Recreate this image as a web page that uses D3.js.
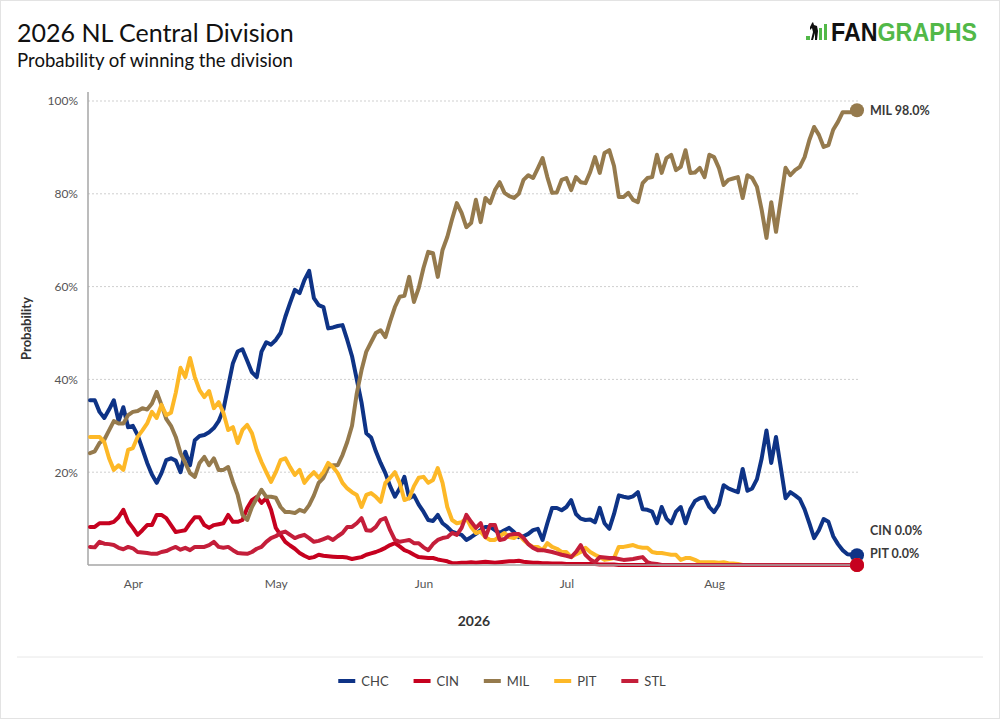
<!DOCTYPE html>
<html>
<head>
<meta charset="utf-8">
<script src="https://cdn.jsdelivr.net/npm/d3@7"></script>
<style>
  body { margin: 0; background: #fff; }
  svg { display: block; font-family: Lato, "Open Sans", sans-serif; }
</style>
</head>
<body>
<svg id="chart" width="1000" height="721"></svg>
<script>
// ---- data (daily values in %) ----
const startDate = "2026-03-23";
const teams = ["CHC", "CIN", "MIL", "PIT", "STL"];
const teamColours = ["#0E3386", "#C6011F", "#957A4D", "#FDB827", "#C41E3A"];
const yTicks = [20, 40, 60, 80, 100];
const labelledTeams = ["MIL", "CIN", "PIT"];

const chcValues = [
  35.5, 35.5, 33, 31.7, 33.5, 35.5, 31, 34, 29.7, 30,
  28, 25, 22, 19.5, 17.7, 19.8, 22.6, 23, 22.5, 20,
  24.4, 21.5, 26.9, 27.8, 28, 28.6, 29.5, 31, 33.5, 38.5,
  43.5, 46, 46.5, 44, 41.5, 40.5, 46, 48, 47.5, 48.5,
  50, 53.5, 56.5, 59.3, 58.6, 61.4, 63.4, 57.5, 56, 55.6,
  51, 51.2, 51.5, 51.7, 48.5, 45, 40, 35, 28.4, 27.5,
  24.5, 22, 19.8, 17, 14.7, 16.5, 19, 14.4, 15, 13,
  11.5, 9.7, 9.5, 10.8, 9, 8.2, 7.2, 6.8, 6.5, 5.4,
  6, 6.7, 7.5, 8.2, 8.2, 7.5, 6.9, 7.5, 8, 7.1,
  6, 6.2, 6.7, 7.5, 7.8, 5.4, 9, 12.3, 12.3, 11.8,
  12.5, 14, 11, 10, 9.7, 9.8, 9.2, 12.3, 9, 7.8,
  11, 15, 14.7, 14.5, 14.8, 15.7, 12, 11.9, 11.5, 9,
  12.5, 10, 9, 11.5, 12.5, 9, 12, 13.8, 14.4, 14.6,
  12.5, 11.4, 13, 17.2, 16.5, 16.1, 15.7, 20.7, 16, 16.5,
  18.5, 23, 29, 22, 27.6, 21, 14.4, 15.7, 15, 14.2,
  12, 9, 5.8, 7.5, 9.9, 9.3, 6.2, 4.5, 3.2, 2.3,
  2.2, 2.1
];

const cinValues = [
  8.2, 8.2, 9, 9, 9, 9.3, 10.3, 11.9, 9.3, 8,
  6.5, 7.5, 8.6, 8.6, 10.8, 10.8, 10.1, 8.6, 7.1, 7.3,
  7.5, 9, 10.3, 10.3, 8.6, 8, 8.6, 8.8, 9, 10.8,
  9.3, 9.3, 9.7, 12.3, 14, 14.7, 13.4, 14.4, 11.9, 8,
  6.5, 5, 4.2, 3.5, 2.6, 2, 1.5, 1.7, 2.2, 2,
  1.9, 1.8, 1.7, 1.7, 1.6, 1.3, 1.5, 1.7, 2.2, 2.5,
  2.8, 3.2, 3.7, 4.3, 4.7, 4, 3.2, 2.8, 2.2, 1.7,
  1.6, 1.5, 1.5, 1.2, 1, 0.8, 0.4, 0.4, 0.5, 0.5,
  0.6, 0.5, 0.6, 0.7, 0.6, 0.5, 0.6, 0.7, 0.8, 0.8,
  0.9, 0.7, 0.6, 0.5, 0.5, 0.4, 0.4, 0.3, 0.3, 0.3,
  0.2, 0.2, 0.2, 0.2, 0.2, 0.2, 0.2, 0.1, 0.1, 0.1,
  0.1, 0, 0, 0, 0, 0, 0, 0, 0, 0,
  0, 0, 0, 0, 0, 0, 0, 0, 0, 0,
  0, 0, 0, 0, 0, 0, 0, 0, 0, 0,
  0, 0, 0, 0, 0, 0, 0, 0, 0, 0,
  0, 0, 0, 0, 0, 0, 0, 0, 0, 0,
  0, 0
];

const milValues = [
  24.1, 24.5, 26.3, 27, 29, 31, 30.5, 30.5, 32.3, 33,
  33.2, 33.8, 33.5, 34.8, 37.3, 34.5, 31.5, 30, 27.6, 24.1,
  22, 19.8, 19, 22, 23.3, 21.5, 23, 20.5, 20.5, 21.1,
  17.9, 15.1, 10.8, 9.7, 12.5, 14.4, 16.2, 14.7, 14.7, 14.5,
  12.5, 11.4, 11.4, 11.2, 11.9, 11.5, 12.9, 15, 17.7, 18.8,
  21.1, 21.5, 21.5, 23.7, 26.5, 30, 37, 42, 46, 48,
  50, 50.6, 49.1, 52.5, 55.6, 57.8, 58, 62.1, 56.7, 59.7,
  64, 67.5, 67.2, 62.1, 67.9, 70.7, 74.5, 78, 75.9, 72.8,
  73.7, 78.7, 73.9, 79.1, 78, 80.8, 82.5, 80.2, 79.5, 79.1,
  80, 83, 84, 83.4, 85.5, 87.7, 83.6, 80.2, 80.3, 83,
  83.4, 80.8, 83.6, 82.5, 82.3, 84.7, 87.9, 84.5, 88.8, 89.4,
  86, 79.3, 79.3, 80.2, 78.7, 78.2, 82.3, 83.4, 83.6, 88.4,
  84.5, 87.7, 88.4, 85.1, 85.8, 89.4, 84.5, 84.6, 85.6, 83.6,
  88.4, 87.9, 85.6, 81.9, 83, 83.3, 83.6, 79.1, 84, 83.4,
  81.5, 76.5, 70.5, 78.2, 71.8, 78.7, 85.6, 84, 85.1, 85.8,
  87.9, 91.6, 94.4, 92.7, 90.1, 90.5, 93.8, 95.5, 97.6, 97.6,
  97.6, 98
];

const pitValues = [
  27.6, 27.6, 27.6, 26.5, 23, 20.5, 21.5, 20.5, 24.8, 25.2,
  27.6, 29, 30.5, 33, 31.7, 34.5, 32.3, 32.8, 37.1, 42.5,
  40.5, 44.6, 40.5, 37.7, 36.2, 37.5, 33.8, 35.1, 32.8, 29.1,
  29.7, 26.3, 29.1, 30.2, 28.4, 24.8, 22.2, 20, 17.9, 20,
  22.6, 23, 21.1, 19.4, 20.5, 17.7, 19, 20, 18.8, 20,
  22, 21.1, 19.8, 17.7, 16.5, 15.7, 15.1, 12.5, 15.1, 15.5,
  14.7, 13.6, 17.7, 18.8, 20, 17.7, 14, 14.4, 17, 18.8,
  19, 17.7, 18.3, 20.9, 17.7, 12.5, 9.7, 9, 9.2, 10.1,
  8.2, 6.9, 7.2, 6, 5.4, 5.4, 6.2, 6.9, 6, 5.8,
  6.5, 5.4, 4.5, 3.9, 3.9, 3.2, 4.7, 3.9, 3.5, 2.8,
  2.8, 1.7, 2.3, 2.8, 3.7, 2.8, 2.2, 1.7, 1.1, 1.3,
  1.5, 3.9, 3.9, 4.1, 4.3, 3.9, 3.7, 3.7, 2.8, 2.6,
  2.6, 2.4, 2.2, 2.2, 1.1, 1.5, 1.5, 1.1, 0.6, 0.6,
  0.6, 0.6, 0.5, 0.6, 0.4, 0.3, 0.2, 0, 0, 0,
  0, 0, 0, 0, 0, 0, 0, 0, 0, 0,
  0, 0, 0, 0, 0, 0, 0, 0, 0, 0,
  0, 0
];

const stlValues = [
  3.9, 3.8, 5, 4.6, 4.5, 4.3, 3.7, 3.4, 3.9, 3.6,
  2.8, 2.7, 2.6, 2.4, 2.4, 2.8, 3, 3.5, 3.9, 3.3,
  3.7, 3.2, 3.9, 3.9, 3.9, 4.3, 5, 3.9, 3.7, 3.9,
  3.2, 2.6, 2.5, 2.4, 2.8, 3.5, 3.9, 5, 5.8, 6.2,
  6.9, 7.2, 6.5, 5.8, 6.2, 6.5, 5.8, 5, 5.2, 5.6,
  6, 5.4, 6.2, 6.9, 8.2, 8.2, 9, 10.1, 7.5, 7.4,
  8.2, 9.7, 10.1, 7.5, 5.4, 5, 5.2, 5.4, 4.7, 4.7,
  3.8, 3.2, 4.5, 5.4, 5.8, 6, 6.9, 6.5, 8, 10.8,
  9.3, 8, 9, 6, 8.6, 8.6, 5.4, 5.6, 6.5, 6.7,
  6.7, 5.8, 4.5, 3.7, 3.2, 3.2, 3, 2.8, 2.5, 2.2,
  2, 1.7, 2.8, 4.3, 2.2, 1.2, 0.6, 1.7, 1.6, 1.5,
  1.5, 1.3, 1.1, 1.2, 1.3, 1.5, 1.7, 0.6, 0.3, 0.2,
  0, 0, 0, 0, 0, 0, 0, 0, 0, 0,
  0, 0, 0, 0, 0, 0, 0, 0, 0, 0,
  0, 0, 0, 0, 0, 0, 0, 0, 0, 0,
  0, 0, 0, 0, 0, 0, 0, 0, 0, 0,
  0, 0
];

const seriesValues = [chcValues, cinValues, milValues, pitValues, stlValues];

// ---- layout ----
const width = 1000, height = 721;
const plot = { left: 88, right: 860, top: 92, bottom: 565 };
const fontGrey = "#555";

const svg = d3.select("#chart");

svg.append("rect")
  .attr("x", 0.5).attr("y", 0.5)
  .attr("width", width - 1).attr("height", height - 3)
  .attr("fill", "#fff")
  .attr("stroke", "#e3e3e3");

svg.append("text")
  .attr("x", 17).attr("y", 42)
  .attr("font-size", 25).attr("font-weight", 400)
  .attr("fill", "#111")
  .text("2026 NL Central Division");

svg.append("text")
  .attr("x", 17).attr("y", 67)
  .attr("font-size", 18.6).attr("font-weight", 400)
  .attr("fill", "#111")
  .text("Probability of winning the division");

// fangraphs wordmark
const logo = svg.append("g").attr("transform", "translate(806,22)");
logo.append("rect").attr("x", 0).attr("y", 14).attr("width", 4).attr("height", 4).attr("fill", "#52b848");
logo.append("rect").attr("x", 13).attr("y", 6).attr("width", 3).attr("height", 12).attr("fill", "#52b848");
logo.append("rect").attr("x", 18).attr("y", 2).attr("width", 3).attr("height", 16).attr("fill", "#52b848");
logo.append("path")
  .attr("d", "M6,1 L7,0 L8,3 L11,4 L12,9 L11,18 L9,18 L9,11 L7,18 L5,18 L7,10 L6,6 L4,8 L4,5 Z")
  .attr("fill", "#111");
const logoText = logo.append("text")
  .attr("x", 25).attr("y", 19)
  .attr("font-family", "'Liberation Sans Narrow', 'Liberation Sans', Arial, sans-serif")
  .attr("font-weight", 700).attr("font-size", 25)
  .attr("textLength", 146).attr("lengthAdjust", "spacingAndGlyphs");
logoText.append("tspan").attr("fill", "#111").text("FAN");
logoText.append("tspan").attr("fill", "#52b848").text("GRAPHS");

// ---- scales ----
const t0 = d3.utcParse("%Y-%m-%d")(startDate);
const dates = chcValues.map((d, i) => d3.utcDay.offset(t0, i));

const x = d3.scaleUtc()
  .domain(d3.extent(dates))
  .range([plot.left + 2, plot.right - 3]);

const y = d3.scaleLinear()
  .domain([0, 100])
  .range([plot.bottom, 101]);

// gridlines
svg.append("g")
  .selectAll("line")
  .data(yTicks)
  .join("line")
  .attr("x1", plot.left).attr("x2", plot.right)
  .attr("y1", d => y(d)).attr("y2", d => y(d))
  .attr("stroke", "#cfcfcf")
  .attr("stroke-dasharray", "2,2");

// y axis
const yAxis = svg.append("g")
  .attr("transform", `translate(${plot.left},0)`)
  .call(d3.axisLeft(y).tickValues(yTicks).tickSize(0).tickPadding(10).tickFormat(d => d + "%"));
yAxis.select(".domain").remove();
yAxis.selectAll("text")
  .attr("font-family", "Lato, sans-serif")
  .attr("font-size", 12)
  .attr("fill", fontGrey);

svg.append("line")
  .attr("x1", plot.left).attr("x2", plot.left)
  .attr("y1", plot.top).attr("y2", plot.bottom)
  .attr("stroke", "#a6a6a6").attr("stroke-width", 1.5);

svg.append("text")
  .attr("transform", `translate(31,${(plot.top + plot.bottom) / 2}) rotate(-90)`)
  .attr("text-anchor", "middle")
  .attr("font-size", 13).attr("font-weight", 700)
  .attr("fill", "#333")
  .text("Probability");

// x axis
const xAxis = svg.append("g")
  .attr("transform", `translate(0,${plot.bottom})`)
  .call(d3.axisBottom(x).ticks(d3.utcMonth.every(1)).tickFormat(d3.utcFormat("%b")).tickSize(0).tickPadding(14));
xAxis.select(".domain").remove();
xAxis.selectAll("text")
  .attr("font-family", "Lato, sans-serif")
  .attr("font-size", 12)
  .attr("fill", fontGrey);

svg.append("text")
  .attr("x", (plot.left + plot.right) / 2).attr("y", 626)
  .attr("text-anchor", "middle")
  .attr("font-size", 14).attr("font-weight", 700)
  .attr("fill", "#333")
  .text("2026");

// ---- lines ----
const line = d3.line()
  .x((d, i) => x(dates[i]))
  .y(d => y(d));

svg.append("g")
  .selectAll("path")
  .data(seriesValues)
  .join("path")
  .attr("fill", "none")
  .attr("stroke", (d, i) => teamColours[i])
  .attr("stroke-width", 4)
  .attr("stroke-linejoin", "round")
  .attr("stroke-linecap", "round")
  .attr("d", line);

svg.append("line")
  .attr("x1", plot.left).attr("x2", plot.right)
  .attr("y1", plot.bottom).attr("y2", plot.bottom)
  .attr("stroke", "#a6a6a6").attr("stroke-width", 1.5);

// ---- end dots (CIN drawn last so it sits on top) ----
const lastIdx = dates.length - 1;
const dotOrder = [0, 2, 3, 4, 1];
svg.append("g")
  .selectAll("circle")
  .data(dotOrder)
  .join("circle")
  .attr("cx", x(dates[lastIdx]))
  .attr("cy", i => y(seriesValues[i][lastIdx]))
  .attr("r", 7)
  .attr("fill", i => teamColours[i]);

// ---- end labels with simple dodge (later teams sit lower on ties) ----
const labels = labelledTeams.map(t => {
  const i = teams.indexOf(t);
  const v = seriesValues[i][lastIdx];
  return { idx: i, text: `${t} ${v.toFixed(1)}%`, y: y(v) };
}).sort((a, b) => (b.y - a.y) || (b.idx - a.idx));
let prevY = plot.bottom + 12;
labels.forEach(l => {
  l.y = Math.min(l.y, plot.bottom - 11, prevY - 23);
  prevY = l.y;
});
svg.append("g")
  .selectAll("text")
  .data(labels)
  .join("text")
  .attr("x", x(dates[lastIdx]) + 13)
  .attr("y", d => d.y)
  .attr("dy", "0.35em")
  .attr("font-size", 12.5).attr("font-weight", 700)
  .attr("fill", "#3a3a3a")
  .text(d => d.text);

// separator
svg.append("line")
  .attr("x1", 17).attr("x2", 983)
  .attr("y1", 657).attr("y2", 657)
  .attr("stroke", "#e8e8e8");

// ---- legend ----
const legend = svg.append("g");
const items = legend.selectAll("g")
  .data(teams)
  .join("g");
items.append("rect")
  .attr("y", 679).attr("width", 17).attr("height", 4)
  .attr("fill", (d, i) => teamColours[i]);
items.append("text")
  .attr("x", 23).attr("y", 681).attr("dy", "0.35em")
  .attr("font-size", 13)
  .attr("fill", "#444")
  .text(d => d);
let cursor = 0;
const itemX = [];
items.each(function () {
  const w = 23 + d3.select(this).select("text").node().getComputedTextLength();
  itemX.push(cursor);
  cursor += w + 25;
});
const legendWidth = cursor - 25;
const legendStart = 502 - legendWidth / 2;
items.attr("transform", (d, i) => `translate(${legendStart + itemX[i]},0)`);
</script>
</body>
</html>
